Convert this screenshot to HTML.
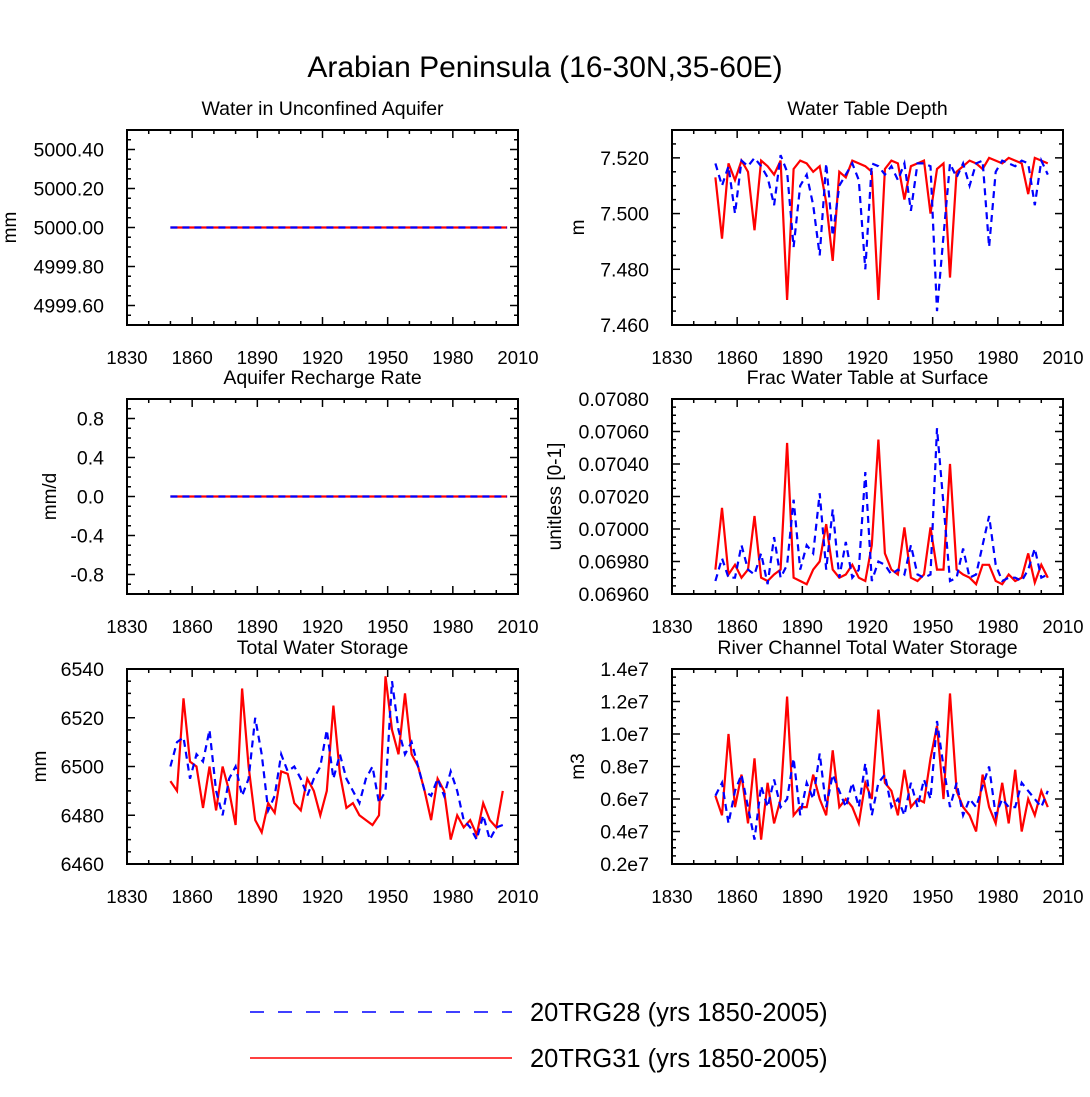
<!DOCTYPE html>
<html><head><meta charset="utf-8"><style>
body{margin:0;background:#fff;}
svg text{font-family:"Liberation Sans",Arial,sans-serif;fill:#000;}
</style></head><body>
<svg id="chart" width="1090" height="1092" xmlns="http://www.w3.org/2000/svg">
<text x="545" y="77" font-size="30" text-anchor="middle">Arabian Peninsula (16-30N,35-60E)</text>
<g>
<line x1="250" y1="1012" x2="512" y2="1012" stroke="#00f" stroke-width="1.5" stroke-dasharray="14,14"/>
<text x="530" y="1021" font-size="25.5">20TRG28 (yrs 1850-2005)</text>
<line x1="250" y1="1058" x2="512" y2="1058" stroke="#f00" stroke-width="1.5"/>
<text x="530" y="1067" font-size="25.5">20TRG31 (yrs 1850-2005)</text>
</g>
</svg>
<script>
const years=[1850,1853,1856,1859,1862,1865,1868,1871,1874,1877,1880,1883,1886,1889,1892,1895,1898,1901,1904,1907,1910,1913,1916,1919,1922,1925,1928,1931,1934,1937,1940,1943,1946,1949,1952,1955,1958,1961,1964,1967,1970,1973,1976,1979,1982,1985,1988,1991,1994,1997,2000,2003];
const flatYears=[1850,2005];
const aquiferBlue=[5000,5000];
const aquiferRed=[5000,5000];
const rechargeBlue=[0,0];
const rechargeRed=[0,0];
const wtdRed=[7.513,7.491,7.518,7.512,7.519,7.515,7.494,7.519,7.517,7.514,7.519,7.469,7.516,7.519,7.518,7.515,7.517,7.504,7.483,7.515,7.513,7.519,7.518,7.517,7.515,7.469,7.516,7.519,7.518,7.505,7.517,7.518,7.519,7.500,7.516,7.518,7.477,7.515,7.517,7.519,7.518,7.516,7.520,7.519,7.518,7.520,7.519,7.518,7.507,7.520,7.519,7.518];
const wtdBlue=[7.518,7.510,7.517,7.500,7.519,7.517,7.520,7.517,7.513,7.503,7.521,7.515,7.488,7.510,7.514,7.503,7.485,7.518,7.492,7.510,7.514,7.518,7.512,7.480,7.518,7.517,7.514,7.517,7.512,7.518,7.501,7.518,7.518,7.517,7.465,7.492,7.518,7.513,7.518,7.510,7.518,7.519,7.488,7.515,7.519,7.518,7.517,7.519,7.518,7.503,7.519,7.514];
const fracRed=[.06975,.07013,.06972,.06978,.06970,.06975,.07008,.06970,.06968,.06972,.06975,.07053,.06970,.06968,.06966,.06975,.06980,.07003,.06975,.06970,.06972,.06978,.06970,.06968,.06990,.07055,.06985,.06975,.06972,.07001,.06970,.06968,.06972,.07001,.06975,.06975,.07040,.06975,.06972,.06970,.06966,.06978,.06978,.06968,.06966,.06972,.06968,.06970,.06985,.06967,.06978,.06970];
const fracBlue=[.06968,.06982,.06970,.06970,.06990,.06975,.06972,.06985,.06966,.06995,.06970,.06978,.07018,.06975,.06990,.06985,.07022,.06975,.07012,.06970,.06992,.06970,.06975,.07035,.06968,.06980,.06978,.06972,.06975,.06972,.06990,.06972,.06970,.06972,.07062,.07015,.06968,.06970,.06988,.06970,.06972,.06990,.07008,.06978,.06968,.06970,.06970,.06968,.06975,.06988,.06970,.06972];
const twsRed=[6494,6490,6528,6502,6500,6483,6500,6482,6500,6490,6476,6532,6500,6478,6473,6485,6481,6498,6497,6485,6482,6495,6490,6480,6490,6525,6497,6483,6485,6480,6478,6476,6480,6537,6515,6505,6530,6505,6500,6490,6478,6495,6490,6470,6480,6475,6478,6472,6485,6478,6475,6490];
const twsBlue=[6500,6510,6512,6495,6505,6502,6515,6490,6480,6495,6500,6488,6495,6520,6505,6482,6488,6505,6498,6500,6495,6488,6495,6500,6515,6495,6505,6495,6490,6485,6495,6500,6485,6490,6535,6515,6505,6510,6500,6490,6488,6495,6488,6498,6490,6478,6475,6470,6480,6470,6475,6476];
const riverRed=[.62,.50,1.0,.55,.75,.45,.85,.35,.70,.45,.60,1.23,.50,.55,.55,.75,.60,.50,.90,.55,.60,.55,.45,.70,.60,1.15,.70,.65,.50,.78,.55,.60,.58,.85,1.05,.60,1.25,.65,.55,.50,.40,.75,.55,.45,.70,.45,.78,.40,.60,.50,.65,.55];
const riverBlue=[.62,.70,.45,.65,.75,.55,.35,.68,.55,.72,.55,.60,.85,.50,.70,.60,.88,.55,.75,.65,.55,.70,.55,.82,.50,.70,.75,.55,.60,.50,.70,.55,.72,.60,1.08,.80,.55,.70,.50,.60,.55,.68,.80,.50,.60,.55,.55,.70,.65,.60,.55,.65];
const xTicks=[1830,1860,1890,1920,1950,1980,2010];

const svg=document.getElementById('chart');
const NS='http://www.w3.org/2000/svg';
function mk(tag,attrs,parent){const e=document.createElementNS(NS,tag);for(const k in attrs)e.setAttribute(k,attrs[k]);parent.appendChild(e);return e;}

const panels=[
 {name:'water-in-unconfined-aquifer',title:'Water in Unconfined Aquifer',x:127,y:130,ymin:4999.5,ymax:5000.5,ticks:[4999.6,4999.8,5000.0,5000.2,5000.4],fmt:v=>v.toFixed(2),minor:0.05,ylab:'mm',ylx:16,yrs:flatYears,blue:aquiferBlue,red:aquiferRed},
 {name:'water-table-depth',title:'Water Table Depth',x:672,y:130,ymin:7.46,ymax:7.53,ticks:[7.46,7.48,7.50,7.52],fmt:v=>v.toFixed(3),minor:0.005,ylab:'m',ylx:584,yrs:years,blue:wtdBlue,red:wtdRed},
 {name:'aquifer-recharge-rate',title:'Aquifer Recharge Rate',x:127,y:399,ymin:-1,ymax:1,ticks:[-0.8,-0.4,0,0.4,0.8],fmt:v=>v.toFixed(1),minor:0.1,ylab:'mm/d',ylx:56,yrs:flatYears,blue:rechargeBlue,red:rechargeRed},
 {name:'frac-water-table-at-surface',title:'Frac Water Table at Surface',x:672,y:399,ymin:0.0696,ymax:0.0708,ticks:[0.0696,0.0698,0.0700,0.0702,0.0704,0.0706,0.0708],fmt:v=>v.toFixed(5),minor:0.00005,ylab:'unitless [0-1]',ylx:561,yrs:years,blue:fracBlue,red:fracRed},
 {name:'total-water-storage',title:'Total Water Storage',x:127,y:669,ymin:6460,ymax:6540,ticks:[6460,6480,6500,6520,6540],fmt:v=>v.toFixed(0),minor:5,ylab:'mm',ylx:46,yrs:years,blue:twsBlue,red:twsRed},
 {name:'river-channel-total-water-storage',title:'River Channel Total Water Storage',x:672,y:669,ymin:0.2,ymax:1.4,ticks:[0.2,0.4,0.6,0.8,1.0,1.2,1.4],fmt:v=>v.toFixed(1)+'e7',minor:0.05,ylab:'m3',ylx:584,yrs:years,blue:riverBlue,red:riverRed}
];
const W=391,H=195;
panels.forEach(p=>{
 const g=mk('g',{},svg);
 
 
 const sx=v=>p.x+(v-1830)/180*W;
 const sy=v=>p.y+H-(v-p.ymin)/(p.ymax-p.ymin)*H;
 const t=mk('text',{x:p.x+W/2,y:p.y-15,'font-size':19.5,'text-anchor':'middle'},g);
 t.textContent=p.title;
 
 
 for(let yr=1830;yr<=2010;yr+=10){
  const maj=(yr-1830)%30===0, L=maj?8:4;
  mk('line',{x1:sx(yr),x2:sx(yr),y1:p.y+H,y2:p.y+H-L,stroke:'#000','stroke-width':1.5},g);
  mk('line',{x1:sx(yr),x2:sx(yr),y1:p.y,y2:p.y+L,stroke:'#000','stroke-width':1.5},g);
 }
 xTicks.forEach(v=>{const l=mk('text',{x:sx(v),y:p.y+H+39,'font-size':18.5,'text-anchor':'middle'},g);l.textContent=v;
  
  });
 const n=Math.round((p.ymax-p.ymin)/p.minor);
 for(let i=0;i<=n;i++){const v=p.ymin+i*p.minor;
  const maj=p.ticks.some(tk=>Math.abs(tk-v)<p.minor/10), L=maj?8:4;
  mk('line',{x1:p.x,x2:p.x+L,y1:sy(v),y2:sy(v),stroke:'#000','stroke-width':1.5},g);
  mk('line',{x1:p.x+W,x2:p.x+W-L,y1:sy(v),y2:sy(v),stroke:'#000','stroke-width':1.5},g);}
 p.ticks.forEach(v=>{const l=mk('text',{x:p.x-23,y:sy(v)+7,'font-size':19.5,'text-anchor':'end'},g);l.textContent=p.fmt(v);
  
  });
 const yl=mk('text',{x:p.ylx,y:p.y+H/2,'font-size':19,'text-anchor':'middle',transform:`rotate(-90 ${p.ylx} ${p.y+H/2})`},g);
 yl.textContent=p.ylab;
 
 
 const pts=a=>a.map((v,i)=>sx(p.yrs[i]).toFixed(1)+','+sy(v).toFixed(1)).join(' ');
 const r=mk('polyline',{points:pts(p.red),fill:'none',stroke:'#f00','stroke-width':2.2},g);
 
 
 const b=mk('polyline',{points:pts(p.blue),fill:'none',stroke:'#00f','stroke-width':2.2,'stroke-dasharray':'7,5'},g);
 
 
 const f=mk('rect',{x:p.x,y:p.y,width:W,height:H,fill:'none',stroke:'#000','stroke-width':2},g);
 
 
});
</script>
</body></html>
